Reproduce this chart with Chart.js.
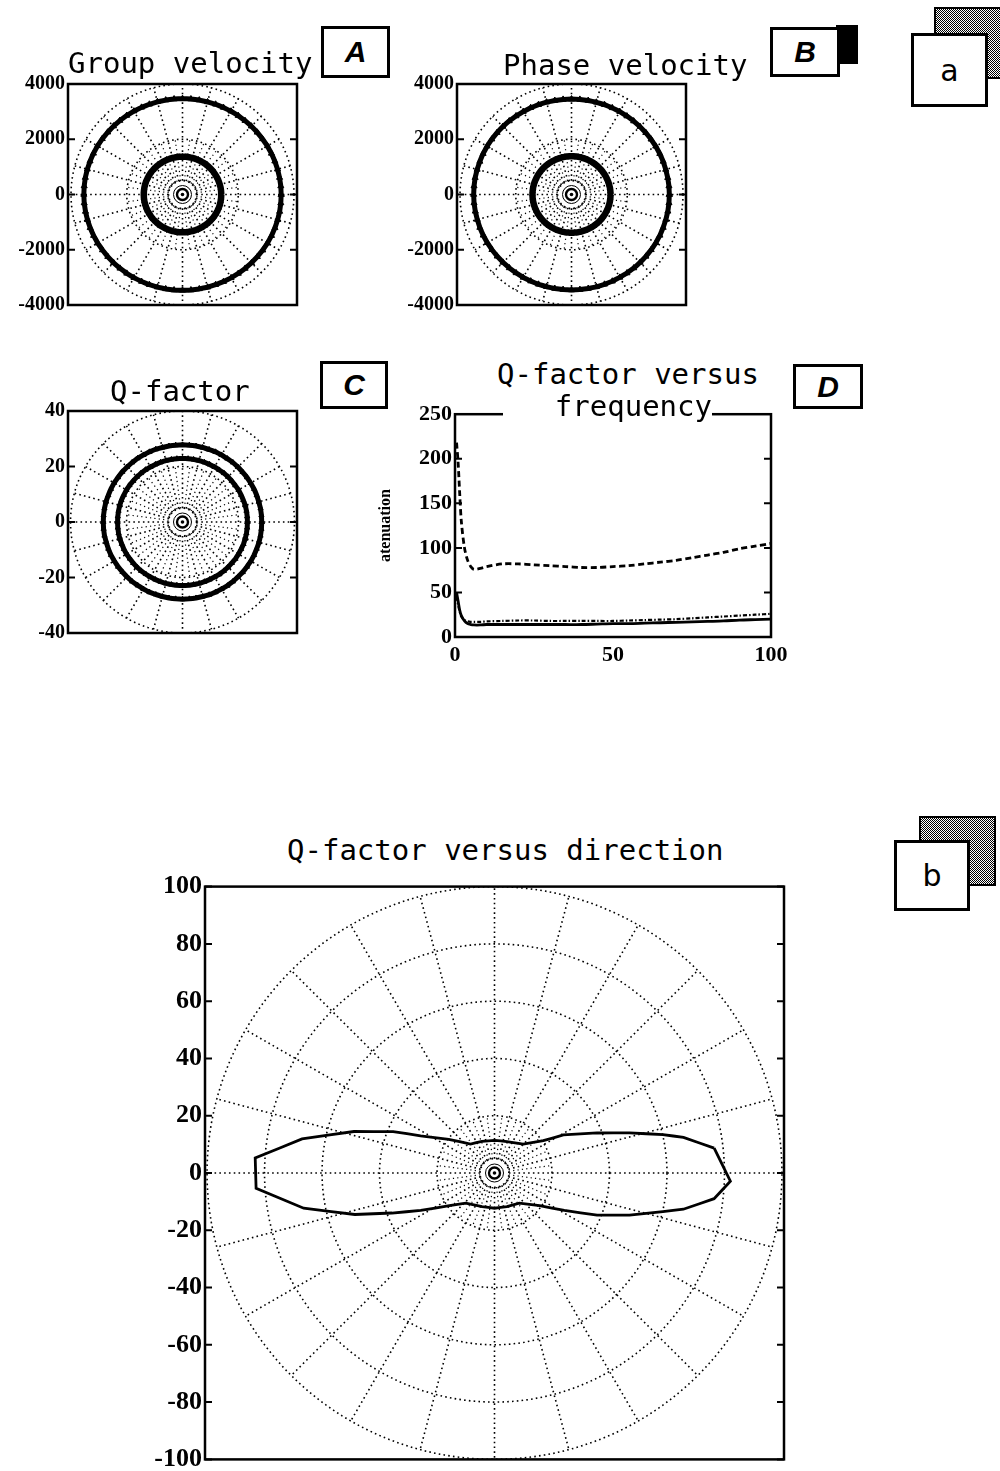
<!DOCTYPE html>
<html><head><meta charset="utf-8">
<script src="https://cdn.jsdelivr.net/npm/chart.js@4"></script>
<style>
html,body{margin:0;padding:0;background:#fff;}
body{width:1000px;height:1471px;overflow:hidden;position:relative;}
canvas{position:absolute;z-index:1;}
.ttl{position:absolute;z-index:3;font-family:"DejaVu Sans Mono";font-size:29px;line-height:29px;color:#000;white-space:nowrap;}
.box{position:absolute;z-index:4;border:3px solid #000;background:#fff;box-sizing:border-box;display:flex;align-items:center;justify-content:center;color:#000;}
.lab{font-family:"Liberation Sans";font-weight:bold;font-style:italic;font-size:30px;}
.lab2{font-family:"DejaVu Sans";font-size:30px;}
.stip{position:absolute;z-index:3;border:2px solid #000;box-sizing:border-box;background:repeating-conic-gradient(#000 0 25%,#fff 0 50%) 0 0/2px 2px;}
.blk{position:absolute;z-index:3;background:#000;}
</style></head><body>

<div class="ttl" style="left:68px;top:49px;">Group velocity</div>
<div class="ttl" style="left:503px;top:51px;">Phase velocity</div>
<div class="ttl" style="left:110px;top:377px;">Q-factor</div>
<div class="ttl" style="left:497px;top:360px;">Q-factor versus</div>
<div class="ttl" style="left:503px;top:392px;width:209px;text-align:right;background:#fff;">frequency</div>
<div class="ttl" style="left:287px;top:836px;">Q-factor versus direction</div>

<div class="box lab" style="left:321px;top:26px;width:69px;height:52px;">A</div>
<div class="blk" style="left:836px;top:25px;width:22px;height:39px;"></div>
<div class="box lab" style="left:770px;top:27px;width:70px;height:50px;">B</div>
<div class="box lab" style="left:320px;top:361px;width:68px;height:48px;">C</div>
<div class="box lab" style="left:793px;top:364px;width:70px;height:45px;">D</div>
<div class="stip" style="left:934px;top:7px;width:72px;height:72px;"></div>
<div class="box lab2" style="left:911px;top:33px;width:77px;height:74px;">a</div>
<div class="stip" style="left:919px;top:816px;width:77px;height:70px;"></div>
<div class="box lab2" style="left:894px;top:840px;width:76px;height:71px;">b</div>

<script>
// ---------------- data ----------------
const ringAngles = [0,5,10,15,20,25,30,35,40,45,50,55,60,65,70,75,80,85,90,95,100,105,110,115,120,125,130,135,140,145,150,155,160,165,170,175,180,185,190,195,200,205,210,215,220,225,230,235,240,245,250,255,260,265,270,275,280,285,290,295,300,305,310,315,320,325,330,335,340,345,350,355];

// Panel A: group velocity (outer and inner wave surfaces)
const groupOuter = [3540,3540,3535,3530,3525,3520,3515,3505,3500,3495,3490,3485,3480,3475,3475,3470,3470,3470,
                    3470,3470,3470,3475,3475,3480,3485,3490,3495,3500,3505,3515,3520,3525,3530,3535,3540,3540,
                    3540,3540,3535,3530,3525,3520,3515,3505,3500,3495,3490,3485,3480,3475,3475,3470,3470,3470,
                    3470,3470,3470,3475,3475,3480,3485,3490,3495,3500,3505,3515,3520,3525,3530,3535,3540,3540];
const groupInner = [1390,1390,1390,1385,1385,1385,1380,1380,1380,1375,1375,1375,1370,1370,1370,1370,1370,1370,
                    1370,1370,1370,1370,1370,1375,1375,1375,1380,1380,1380,1385,1385,1385,1390,1390,1390,1390,
                    1390,1390,1390,1385,1385,1385,1380,1380,1380,1375,1375,1375,1370,1370,1370,1370,1370,1370,
                    1370,1370,1370,1370,1370,1375,1375,1375,1380,1380,1380,1385,1385,1385,1390,1390,1390,1390];
// Panel B: phase velocity
const phaseOuter = [3510,3510,3505,3500,3500,3495,3490,3485,3480,3475,3470,3465,3465,3460,3460,3455,3455,3455,
                    3455,3455,3455,3460,3460,3465,3465,3470,3475,3480,3485,3490,3495,3500,3500,3505,3510,3510,
                    3510,3510,3505,3500,3500,3495,3490,3485,3480,3475,3470,3465,3465,3460,3460,3455,3455,3455,
                    3455,3455,3455,3460,3460,3465,3465,3470,3475,3480,3485,3490,3495,3500,3500,3505,3510,3510];
const phaseInner = [1400,1400,1400,1398,1396,1395,1394,1392,1390,1390,1388,1387,1386,1385,1385,1385,1385,1385,
                    1385,1385,1385,1385,1385,1386,1387,1388,1390,1390,1392,1394,1395,1396,1398,1400,1400,1400,
                    1400,1400,1400,1398,1396,1395,1394,1392,1390,1390,1388,1387,1386,1385,1385,1385,1385,1385,
                    1385,1385,1385,1385,1385,1386,1387,1388,1390,1390,1392,1394,1395,1396,1398,1400,1400,1400];
// Panel C: Q-factor
const qOuter = [28.3,28.3,28.3,28.2,28.2,28.2,28.1,28.1,28.0,28.0,28.0,27.9,27.9,27.9,27.8,27.8,27.8,27.8,
                27.8,27.8,27.8,27.8,27.9,27.9,27.9,28.0,28.0,28.0,28.1,28.1,28.2,28.2,28.2,28.3,28.3,28.3,
                28.3,28.3,28.3,28.2,28.2,28.2,28.1,28.1,28.0,28.0,28.0,27.9,27.9,27.9,27.8,27.8,27.8,27.8,
                27.8,27.8,27.8,27.8,27.9,27.9,27.9,28.0,28.0,28.0,28.1,28.1,28.2,28.2,28.2,28.3,28.3,28.3];
const qInner = [23.2,23.2,23.2,23.2,23.1,23.1,23.1,23.0,23.0,23.0,23.0,22.9,22.9,22.9,22.9,22.9,22.9,22.9,
                22.9,22.9,22.9,22.9,22.9,22.9,22.9,23.0,23.0,23.0,23.0,23.1,23.1,23.1,23.2,23.2,23.2,23.2,
                23.2,23.2,23.2,23.2,23.1,23.1,23.1,23.0,23.0,23.0,23.0,22.9,22.9,22.9,22.9,22.9,22.9,22.9,
                22.9,22.9,22.9,22.9,22.9,22.9,22.9,23.0,23.0,23.0,23.0,23.1,23.1,23.1,23.2,23.2,23.2,23.2];

// Panel D: Q-factor versus frequency
const freq      = [0.5,1,1.5,2,3,4,5,6,8,10,15,20,25,30,35,40,45,50,55,60,65,70,75,80,85,90,95,100];
const qDashed   = [218,195,160,130,100,86,79,76,77,79,82,82,81,80,79,78,78,79,80,82,84,86,89,92,95,99,102,105];
const qSolid    = [50,40,30,24,18,15,14,13.5,13.5,14,14,14,14,14,14,14,14.5,15,15,15.5,16,16.5,17,17.5,18,19,19.5,20];
const qDashDot  = [45,36,28,23,19,17.5,17,17,17,17.5,18,18.5,18.5,18,18,18,18,18,18.5,19,19.5,20,21,22,23,24,25,26];

// Panel b: Q-factor versus direction
const dirAngles = [6.5,10.7,12.9,16.6,21.4,29,33.6,45.3,68.6,90,111.4,129.5,143.5,153.2,157.7,163.5,169.9,176.4,183.7,190.5,196.6,201.4,207,216,226.4,249.8,270,290.2,309.3,324,331.7,337.6,342.6,347,349.1,353.3,358];
const dirQ      = [76.9,66.9,60.1,49,38.3,27.4,20.4,14.2,11.8,11.4,11.9,13.1,19.8,28.8,38.1,51,68,83.4,83.1,67.5,50.7,38.3,28.8,19.4,14.5,12.5,12.3,12.5,13.6,19.4,27.6,38.6,49.2,60.1,66.9,76.9,82.1];

// tick labels and polar grid
const yTicksA = [4000,2000,0,-2000,-4000];
const yTicksC = [40,20,0,-20,-40];
const yTicksD = [0,50,100,150,200,250];
const xTicksD = [0,50,100];
const yTicksQ = [100,80,60,40,20,0,-20,-40,-60,-80,-100];
const gridCirclesA = [500,2000,4000];
const gridCirclesC = [5,20,40];
const gridCirclesQ = [5,20,40,60,80,100];
const spokeAngles = [0,15,30,45,60,75,90,105,120,135,150,165,180,195,210,225,240,255,270,285,300,315,330,345];
const innerSpokeAngles = [7.5,22.5,37.5,52.5,67.5,82.5,97.5,112.5,127.5,142.5,157.5,172.5,187.5,202.5,217.5,232.5,247.5,262.5,277.5,292.5,307.5,322.5,337.5,352.5];

// ---------------- helpers ----------------
function toXY(a, r){ const t = a*Math.PI/180; return {x: r*Math.cos(t), y: r*Math.sin(t)}; }
function circlePts(r){ const p=[]; for(let a=0;a<=360;a+=2) p.push(toXY(a,r)); return p; }
const dotted = {borderColor:'#000', borderWidth:1.6, borderDash:[1.6,3.2], pointRadius:0, showLine:true, fill:false, order:10};
const dottedInner = {borderColor:'#000', borderWidth:1.2, borderDash:[1.2,3.2], pointRadius:0, showLine:true, fill:false, order:10};

function gridSets(circles){
  const ds=[];
  const r0=circles[0], r1=circles[1], rMax=circles[circles.length-1];
  circles.forEach(r=>ds.push(Object.assign({}, dotted, {data: circlePts(r)})));
  spokeAngles.forEach(a=>ds.push(Object.assign({}, dotted, {data:[toXY(a,r0), toXY(a,rMax)]})));
  innerSpokeAngles.forEach(a=>ds.push(Object.assign({}, dottedInner, {data:[toXY(a,r0), toXY(a,r1)]})));
  // centre marker
  ds.push({data:[{x:0,y:0}], showLine:false, pointStyle:'circle', pointRadius:9, pointBorderWidth:1, pointBorderColor:'#000', pointBackgroundColor:'rgba(0,0,0,0)', order:5});
  ds.push({data:[{x:0,y:0}], showLine:false, pointStyle:'circle', pointRadius:5.5, pointBorderWidth:2.4, pointBorderColor:'#000', pointBackgroundColor:'#fff', order:4});
  ds.push({data:[{x:0,y:0}], showLine:false, pointStyle:'circle', pointRadius:1.8, pointBorderWidth:0, pointBackgroundColor:'#000', order:3});
  return ds;
}
// tiny tension forces the regular (non-decimating) path so closed curves draw cleanly
function ringSet(angles, radii, bw, pr){
  const pts = angles.map((a,i)=>toXY(a, radii[i]));
  pts.push(pts[0]);
  return {data:pts, showLine:true, fill:false, borderColor:'#000', borderWidth:bw, tension:0.0001, borderJoinStyle:'round',
          pointStyle:'triangle', pointRadius:pr, pointBackgroundColor:'#000', pointBorderColor:'#000', pointBorderWidth:1, order:0};
}
const framePlugin = {
  id:'frame',
  afterDraw(chart, args, opts){
    const {ctx, chartArea:ca} = chart;
    ctx.save();
    ctx.strokeStyle='#000'; ctx.lineWidth=opts.lw||2.5;
    ctx.strokeRect(ca.left, ca.top, ca.right-ca.left, ca.bottom-ca.top);
    const ys = chart.scales.y; ctx.lineWidth=2;
    (opts.ticks||[]).forEach(v=>{
      const p = ys.getPixelForValue(v);
      ctx.beginPath(); ctx.moveTo(ca.left,p); ctx.lineTo(ca.left+7,p);
      ctx.moveTo(ca.right,p); ctx.lineTo(ca.right-7,p); ctx.stroke();
    });
    ctx.restore();
  }
};
function makeCanvas(left, top, w, h){
  const c=document.createElement('canvas');
  c.width=w; c.height=h; c.style.left=left+'px'; c.style.top=top+'px'; c.style.width=w+'px'; c.style.height=h+'px';
  document.body.appendChild(c); return c;
}
function yAxis(lim, ticks, size, w){
  return {type:'linear', min:-lim, max:lim, grid:{display:false, drawTicks:false}, border:{display:false},
    ticks:{color:'#000', padding:3, font:{family:'Liberation Serif', weight:'bold', size:size}, callback:v=>String(v)},
    afterBuildTicks:s=>{ s.ticks = ticks.map(v=>({value:v})); },
    afterFit:s=>{ s.width = w; }};
}
function polarChart(g, xLim, yLim, ticks, size, datasets){
  return new Chart(makeCanvas(g.left, g.top, g.w, g.h), {
    type:'scatter',
    data:{datasets},
    options:{
      responsive:false, animation:false, events:[],
      layout:{padding:{top:g.pad, bottom:g.pad, left:0, right:4}},
      plugins:{legend:{display:false}, tooltip:{enabled:false}, frame:{ticks:ticks, lw:2.5}},
      scales:{ x:{type:'linear', min:-xLim, max:xLim, display:false}, y:yAxis(yLim, ticks, size, g.axisW) }
    },
    plugins:[framePlugin]
  });
}

// ---------------- panels ----------------
polarChart({left:0, top:69, w:307, h:251, axisW:68, pad:14}, 4108, 4000, yTicksA, 20,
  [ringSet(ringAngles, groupOuter, 5, 3.5), ringSet(ringAngles, groupInner, 6.5, 3)].concat(gridSets(gridCirclesA)));

polarChart({left:389, top:69, w:307, h:251, axisW:68, pad:14}, 4108, 4000, yTicksA, 20,
  [ringSet(ringAngles, phaseOuter, 5, 3.5), ringSet(ringAngles, phaseInner, 6.5, 3)].concat(gridSets(gridCirclesA)));

polarChart({left:0, top:396, w:307, h:252, axisW:68, pad:14}, 40.9, 40, yTicksC, 20,
  [ringSet(ringAngles, qOuter, 5, 3), ringSet(ringAngles, qInner, 5, 3)].concat(gridSets(gridCirclesC)));

const dirSet = (function(){
  const pts = dirAngles.map((a,i)=>toXY(a, dirQ[i])); pts.push(pts[0]);
  return {data:pts, showLine:true, fill:false, borderColor:'#000', borderWidth:2.8, pointRadius:0, tension:0.0001, order:0};
})();
polarChart({left:130, top:868, w:664, h:610, axisW:75, pad:18}, 100.7, 100, yTicksQ, 26,
  [dirSet].concat(gridSets(gridCirclesQ)));

// Panel D
function series(ys){ return freq.map((f,i)=>({x:f, y:ys[i]})); }
new Chart(makeCanvas(372, 398, 424, 274), {
  type:'scatter',
  data:{datasets:[
    {data:series(qDashed), showLine:true, borderColor:'#000', borderWidth:2.8, borderDash:[6,3.5], pointRadius:0, tension:0.3},
    {data:series(qSolid), showLine:true, borderColor:'#000', borderWidth:2.8, pointRadius:0, tension:0.3},
    {data:series(qDashDot), showLine:true, borderColor:'#000', borderWidth:2.2, borderDash:[4,2,1.5,2], pointRadius:0, tension:0.3}
  ]},
  options:{
    responsive:false, animation:false, events:[],
    layout:{padding:{top:14, bottom:0, left:0, right:25}},
    plugins:{legend:{display:false}, tooltip:{enabled:false}, frame:{ticks:[50,100,150,200], lw:2.5}},
    scales:{
      x:{type:'linear', min:0, max:100, grid:{display:false, drawTicks:false}, border:{display:false},
         ticks:{color:'#000', padding:5, font:{family:'Liberation Serif', weight:'bold', size:22}, callback:v=>String(v)},
         afterBuildTicks:s=>{ s.ticks = xTicksD.map(v=>({value:v})); },
         afterFit:s=>{ s.height = 35; }},
      y:{type:'linear', min:0, max:250, grid:{display:false, drawTicks:false}, border:{display:false},
         title:{display:true, text:'atenuation', color:'#000', font:{family:'Liberation Serif', weight:'bold', size:16}, padding:{top:4,bottom:4}},
         ticks:{color:'#000', padding:3, font:{family:'Liberation Serif', weight:'bold', size:22}, callback:v=>String(v)},
         afterBuildTicks:s=>{ s.ticks = yTicksD.map(v=>({value:v})); },
         afterFit:s=>{ s.width = 83; }}
    }
  },
  plugins:[framePlugin]
});
</script>
</body></html>
